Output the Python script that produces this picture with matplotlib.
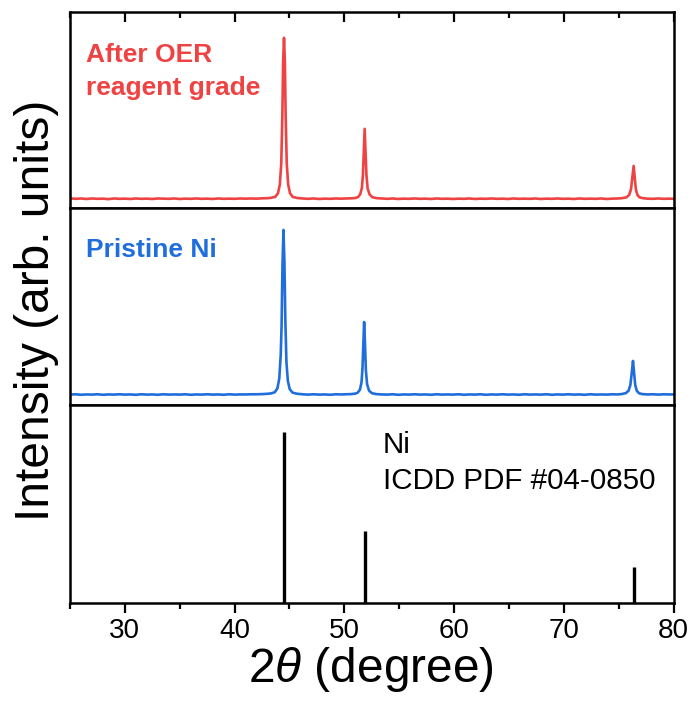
import matplotlib
matplotlib.use("Agg")
import matplotlib.pyplot as plt
from matplotlib.ticker import MultipleLocator

plt.rcParams["font.family"] = ["Liberation Sans", "DejaVu Sans"]
plt.rcParams["mathtext.fontset"] = "custom"
plt.rcParams["mathtext.rm"] = "Liberation Sans"
plt.rcParams["mathtext.it"] = "Liberation Sans:italic"

# After OER (reagent grade) pattern, intensity normalised to the (111) peak
after_x = [25.0, 25.5, 26.0, 26.5, 27.0, 27.5, 28.0, 28.5, 29.0, 29.5, 30.0,
           30.5, 31.0, 31.5, 32.0, 32.5, 33.0, 33.5, 34.0, 34.5, 35.0, 35.5,
           36.0, 36.5, 37.0, 37.5, 38.0, 38.5, 39.0, 39.5, 40.0, 40.5, 41.0,
           41.5, 42.0, 42.5, 43.0, 43.3, 43.7, 43.95, 44.12, 44.25, 44.35,
           44.42, 44.5, 44.58, 44.65, 44.75, 44.88, 45.05, 45.3, 45.7, 46.2,
           46.7, 47.2, 47.7, 48.2, 48.7, 49.2, 49.7, 50.2, 50.6, 51.0, 51.25,
           51.45, 51.6, 51.69, 51.77, 51.85, 51.93, 52.01, 52.12, 52.3, 52.55,
           52.95, 53.4, 53.9, 54.4, 54.9, 55.4, 55.9, 56.4, 56.9, 57.4, 57.9,
           58.4, 58.9, 59.4, 59.9, 60.4, 60.9, 61.4, 61.9, 62.4, 62.9, 63.4,
           63.9, 64.4, 64.9, 65.4, 65.9, 66.4, 66.9, 67.4, 67.9, 68.4, 68.9,
           69.4, 69.9, 70.4, 70.9, 71.4, 71.9, 72.4, 72.9, 73.4, 73.9, 74.4,
           74.9, 75.3, 75.7, 75.95, 76.12, 76.24, 76.36, 76.46, 76.56, 76.7,
           76.9, 77.2, 77.6, 78.1, 78.6, 79.1, 79.6, 80.0]
after_y = [0.4, 0.1, 0.3, 0.0, 0.3, 0.1, 0.2, -0.1, 0.3, 0.1, 0.2,
           0.0, 0.3, 0.1, 0.2, 0.0, 0.3, 0.2, 0.1, 0.3, 0.0, 0.2,
           0.1, 0.3, 0.1, 0.2, 0.0, 0.3, 0.1, 0.2, 0.1, 0.3, 0.2,
           0.3, 0.2, 0.4, 0.5, 0.7, 1.3, 3.5, 9.0, 22.0, 52.0,
           85.0, 100.0, 85.0, 52.0, 22.0, 9.0, 3.5, 1.3, 0.6, 0.3,
           0.1, 0.3, 0.0, 0.2, 0.1, 0.3, 0.2, 0.3, 0.4, 0.6, 1.2,
           3.0, 7.0, 15.0, 30.0, 43.5, 30.0, 15.0, 6.5, 2.8, 1.1,
           0.5, 0.3, 0.1, 0.3, 0.0, 0.2, 0.1, 0.3, 0.1, 0.2, 0.0,
           0.3, 0.1, 0.2, 0.0, 0.2, 0.1, 0.3, 0.0, 0.2, 0.1, 0.3,
           0.1, 0.2, 0.0, 0.3, 0.1, 0.2, 0.1, 0.3, 0.0, 0.2, 0.1,
           0.3, 0.1, 0.2, 0.0, 0.3, 0.1, 0.2, 0.1, 0.3, 0.0, 0.2,
           0.3, 0.5, 1.0, 2.5, 6.0, 13.0, 20.5, 13.0, 6.0, 2.5,
           1.0, 0.5, 0.2, 0.1, 0.3, 0.1, 0.2, 0.1]

# Pristine Ni pattern
pristine_x = [25.0, 25.5, 26.0, 26.5, 27.0, 27.5, 28.0, 28.5, 29.0, 29.5, 30.0,
              30.5, 31.0, 31.5, 32.0, 32.5, 33.0, 33.5, 34.0, 34.5, 35.0, 35.5,
              36.0, 36.5, 37.0, 37.5, 38.0, 38.5, 39.0, 39.5, 40.0, 40.5, 41.0,
              41.5, 42.0, 42.5, 43.0, 43.3, 43.65, 43.9, 44.07, 44.2, 44.28,
              44.36, 44.45, 44.54, 44.62, 44.72, 44.85, 45.02, 45.28, 45.7,
              46.2, 46.7, 47.2, 47.7, 48.2, 48.7, 49.2, 49.7, 50.2, 50.6, 51.0,
              51.22, 51.42, 51.56, 51.65, 51.73, 51.8, 51.88, 51.96, 52.07,
              52.25, 52.5, 52.9, 53.4, 53.9, 54.4, 54.9, 55.4, 55.9, 56.4,
              56.9, 57.4, 57.9, 58.4, 58.9, 59.4, 59.9, 60.4, 60.9, 61.4, 61.9,
              62.4, 62.9, 63.4, 63.9, 64.4, 64.9, 65.4, 65.9, 66.4, 66.9, 67.4,
              67.9, 68.4, 68.9, 69.4, 69.9, 70.4, 70.9, 71.4, 71.9, 72.4, 72.9,
              73.4, 73.9, 74.4, 74.9, 75.25, 75.65, 75.9, 76.06, 76.18, 76.3,
              76.4, 76.5, 76.64, 76.85, 77.15, 77.6, 78.1, 78.6, 79.1, 79.6,
              80.0]
pristine_y = [0.2, 0.4, 0.1, 0.3, 0.2, 0.4, 0.1, 0.3, 0.2, 0.4, 0.2,
              0.3, 0.1, 0.4, 0.2, 0.3, 0.1, 0.4, 0.2, 0.3, 0.2, 0.4,
              0.1, 0.3, 0.2, 0.4, 0.2, 0.3, 0.1, 0.4, 0.2, 0.3, 0.3,
              0.4, 0.4, 0.5, 0.7, 0.9, 1.6, 4.0, 10.0, 24.0, 42.0,
              78.0, 100.0, 80.0, 46.0, 20.0, 8.5, 3.5, 1.4, 0.7,
              0.4, 0.2, 0.4, 0.2, 0.3, 0.1, 0.4, 0.3, 0.4, 0.5, 0.8,
              1.4, 3.2, 7.5, 16.0, 32.0, 44.2, 31.0, 15.0, 6.5,
              2.6, 1.1, 0.5, 0.3, 0.2, 0.4, 0.1, 0.3, 0.2, 0.4,
              0.2, 0.3, 0.1, 0.4, 0.2, 0.3, 0.2, 0.4, 0.1, 0.3, 0.2,
              0.4, 0.1, 0.3, 0.2, 0.4, 0.2, 0.3, 0.1, 0.4, 0.2, 0.3,
              0.2, 0.4, 0.1, 0.3, 0.2, 0.4, 0.2, 0.3, 0.1, 0.4, 0.2,
              0.3, 0.2, 0.4, 0.3, 0.5, 1.1, 2.6, 6.0, 13.0, 20.6,
              13.5, 6.2, 2.6, 1.0, 0.5, 0.3, 0.4, 0.2, 0.4, 0.3,
              0.3]

# Reference pattern: Ni, ICDD PDF #04-0850
ref_pos = [44.51, 51.85, 76.37]
ref_int = [100, 42, 21]

x_ticks = [30, 40, 50, 60, 70, 80]

RED = "#EF4242"
BLUE = "#1F6EDC"

W, H = 692, 705
fig = plt.figure(figsize=(W / 100, H / 100), dpi=100)

left, right = 70, 673.6
panels = [(12, 208), (208, 405), (405, 603)]
axes = []
for top, bot in panels:
    ax = fig.add_axes([left / W, 1 - bot / H, (right - left) / W, (bot - top) / H])
    axes.append(ax)

ax_top, ax_mid, ax_bot = axes

ax_top.plot(after_x, after_y, color=RED, lw=1.9, solid_joinstyle="round")
ax_top.set_ylim(-5.6, 116)
ax_mid.plot(pristine_x, pristine_y, color=BLUE, lw=1.9, solid_joinstyle="round")
ax_mid.set_ylim(-6.1, 113.3)
ax_bot.vlines(ref_pos, 0, ref_int, color="black", lw=2.4)
ax_bot.set_ylim(0, 115.8)

for ax in axes:
    ax.set_xlim(25, 80)
    ax.set_yticks([])
    for sp in ax.spines.values():
        sp.set_linewidth(1.8)
    ax.tick_params(axis="x", which="both", bottom=False, top=False,
                   labelbottom=False)

# inward ticks along the very top edge
ax_top.xaxis.set_major_locator(MultipleLocator(10))
ax_top.xaxis.set_minor_locator(MultipleLocator(5))
ax_top.tick_params(axis="x", which="major", top=True, direction="in",
                   length=7.5, width=1.6)
ax_top.tick_params(axis="x", which="minor", top=True, direction="in",
                   length=4, width=1.6)

# outward ticks with labels along the bottom
ax_bot.set_xticks(x_ticks)
ax_bot.xaxis.set_minor_locator(MultipleLocator(5))
ax_bot.tick_params(axis="x", which="major", bottom=True, direction="out",
                   length=7.5, width=1.6, labelbottom=True, labelsize=20,
                   pad=3)
ax_bot.tick_params(axis="x", which="minor", bottom=True, direction="out",
                   length=4, width=1.6)

ax_top.text(0.027, 0.745, "After OER", transform=ax_top.transAxes,
            color=RED, fontsize=19, fontweight="bold", va="baseline")
ax_top.text(0.027, 0.577, "reagent grade", transform=ax_top.transAxes,
            color=RED, fontsize=19, fontweight="bold", va="baseline")
ax_mid.text(0.027, 0.753, "Pristine Ni", transform=ax_mid.transAxes,
            color=BLUE, fontsize=19, fontweight="bold", va="baseline")
ax_bot.text(0.5186, 0.758, "Ni", transform=ax_bot.transAxes,
            fontsize=21.3, va="baseline")
ax_bot.text(0.5186, 0.576, "ICDD PDF #04-0850", transform=ax_bot.transAxes,
            fontsize=21.3, va="baseline")

fig.text(37 / W, 1 - 310 / H, "Intensity (arb. units)", rotation=90,
         fontsize=34.5, ha="center", va="center")
fig.text(371 / W, 1 - 670 / H, r"2$\it{\theta}$ (degree)",
         fontsize=34.5, ha="center", va="center")

fig.savefig("out.png", dpi=100)
